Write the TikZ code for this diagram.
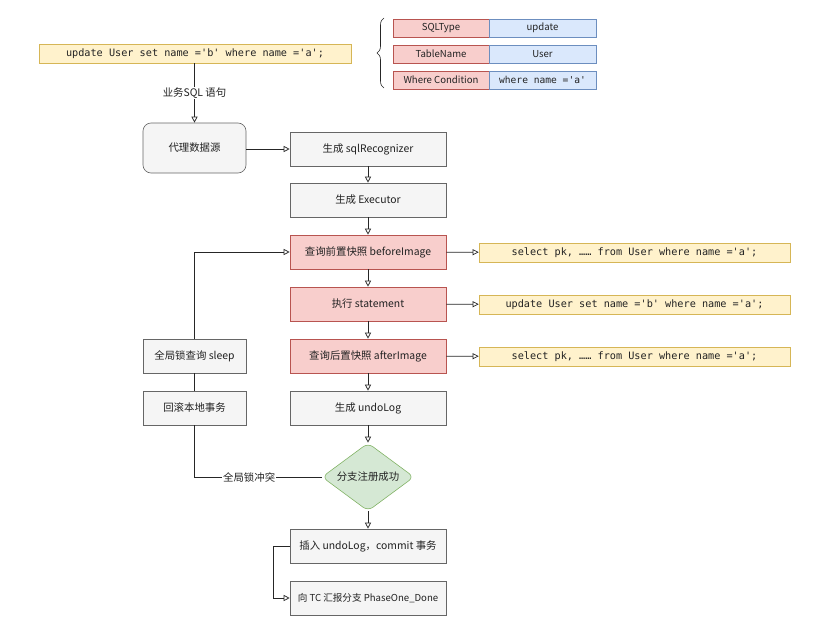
\documentclass[tikz,border=0pt]{standalone}
\usepackage{fontspec}
\setmainfont{Noto Sans CJK SC}
\newfontfamily\codefont{DejaVu Sans Mono}
\usetikzlibrary{arrows.meta,shapes.geometric,decorations.pathreplacing}
\definecolor{grayfill}{HTML}{F5F5F5}
\definecolor{grayline}{HTML}{666666}
\definecolor{redfill}{HTML}{F8CECC}
\definecolor{redline}{HTML}{B85450}
\definecolor{bluefill}{HTML}{DAE8FC}
\definecolor{blueline}{HTML}{6C8EBF}
\definecolor{yelfill}{HTML}{FFF2CC}
\definecolor{yelline}{HTML}{D6B656}
\definecolor{grnfill}{HTML}{D5E8D4}
\definecolor{grnline}{HTML}{82B366}
\definecolor{txt}{HTML}{222222}
\begin{document}
\begin{tikzpicture}[x=1pt,y=-1pt,
  every node/.style={text=txt, inner sep=0pt},
  base/.style={font=\fontsize{10.4}{12}\selectfont},
  gbox/.style={base, draw=grayline, fill=grayfill, line width=0.6pt, minimum width=156pt, minimum height=34pt},
  rbox/.style={gbox, draw=redline, fill=redfill},
  sbox/.style={gbox, minimum width=103pt},
  code/.style={draw=yelline, fill=yelfill, line width=0.6pt, font=\codefont\fontsize{10.2}{12}\selectfont, minimum height=19pt},
  cellr/.style={draw=redline, fill=redfill, line width=0.6pt, font=\fontsize{9.6}{12}\selectfont, minimum width=96pt, minimum height=18pt},
  cellb/.style={draw=blueline, fill=bluefill, line width=0.6pt, font=\fontsize{9.6}{12}\selectfont, minimum width=107pt, minimum height=18pt},
  conn/.style={draw=black!85, line width=0.7pt},
  arr/.style={conn, -{Triangle[open,length=6pt,width=6pt]}},
  lbl/.style={base, fill=white, inner sep=1pt}]
\useasboundingbox (0,0) rectangle (831,637);

% top SQL
\node[code, minimum width=312pt] (sql) at (195,53.5) {update User set name ='b' where name ='a';};

% brace and table
\draw[conn, line width=0.6pt, decorate, decoration={brace, amplitude=7pt}] (384,88) -- (384,18);
\node[cellr] (t1l) at (441,28) {SQLType};
\node[cellb] (t1r) at (542.5,28) {update};
\node[cellr] (t2l) at (441,54) {TableName};
\node[cellb] (t2r) at (542.5,54) {User};
\node[cellr] (t3l) at (441,80) {Where Condition};
\node[cellb, font=\codefont\fontsize{9.6}{11}\selectfont] (t3r) at (542.5,80) {where name ='a'};

% proxy
\node[sbox, rounded corners=8pt, minimum height=50pt] (proxy) at (194.5,148) {代理数据源};

% main column
\node[gbox] (rec) at (368,149) {生成 sqlRecognizer};
\node[gbox] (exe) at (368,200) {生成 Executor};
\node[rbox] (bef) at (368,252) {查询前置快照 beforeImage};
\node[rbox] (stm) at (368,304) {执行 statement};
\node[rbox] (aft) at (368,356) {查询后置快照 afterImage};
\node[gbox] (undo) at (368,408) {生成 undoLog};
\node[diamond, draw=grnline, fill=grnfill, line width=0.6pt, rounded corners=6pt, minimum width=92pt, minimum height=68pt, shape aspect=1.35, base] (br) at (368,477) {分支注册成功};
\node[gbox] (ins) at (368,546) {插入 undoLog，commit 事务};
\node[gbox, font=\fontsize{9.6}{12}\selectfont] (tc) at (368,598) {向 TC 汇报分支 PhaseOne\_Done};

% right code boxes
\node[code, minimum width=311pt] (c1) at (634.5,252.5) {select pk, …… from User where name ='a';};
\node[code, minimum width=311pt] (c2) at (634.5,304.5) {update User set name ='b' where name ='a';};
\node[code, minimum width=311pt] (c3) at (634.5,356.5) {select pk, …… from User where name ='a';};

% left boxes
\node[sbox] (sleep) at (194.5,356) {全局锁查询 sleep};
\node[sbox] (rb) at (194.5,408) {回滚本地事务};

% connectors
\draw[arr] (sql.south -| proxy.north) -- node[lbl, pos=0.5] {业务SQL 语句} (proxy.north);
\draw[arr] (proxy.east |- rec.west) -- (rec.west);
\draw[arr] (rec) -- (exe);
\draw[arr] (exe) -- (bef);
\draw[arr] (bef) -- (stm);
\draw[arr] (stm) -- (aft);
\draw[arr] (aft) -- (undo);
\draw[arr] (undo) -- (br);
\draw[arr] (br) -- (ins);
\draw[arr] (bef) -- (c1);
\draw[arr] (stm) -- (c2);
\draw[arr] (aft) -- (c3);
\draw[arr] (ins.west) -- ++(-16,0) |- (tc.west);
\draw[conn] (br.west) -- node[lbl, pos=0.57] {全局锁冲突} (br.west -| rb.south) -- (rb.south);
\draw[conn] (rb) -- (sleep);
\draw[arr] (sleep.north) |- (bef.west);
\end{tikzpicture}
\end{document}
